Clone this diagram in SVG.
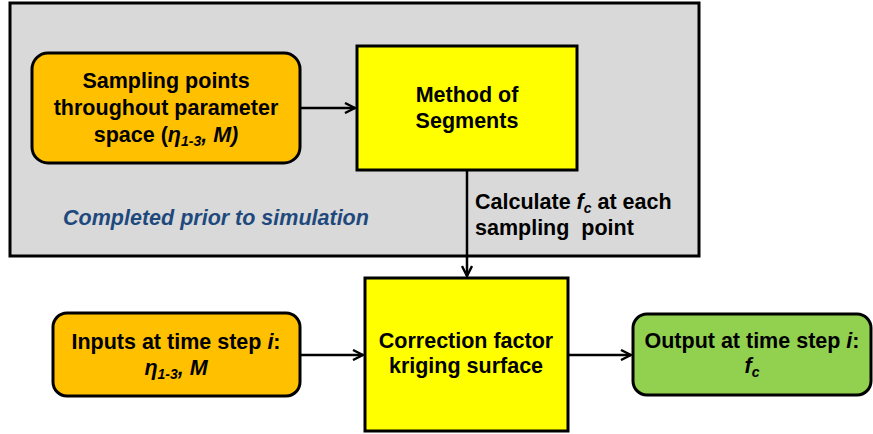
<svg xmlns="http://www.w3.org/2000/svg" width="873" height="434" viewBox="0 0 873 434">
<defs>
<marker id="arr" viewBox="0 0 12 12" refX="11" refY="6" markerWidth="12" markerHeight="12" markerUnits="userSpaceOnUse" orient="auto">
<path d="M1,1 L11,6 L1,11" fill="none" stroke="#000" stroke-width="2.4"/>
</marker>
<style>
.t{font-family:"Liberation Sans",Arial,sans-serif;font-weight:bold;font-size:21.5px;fill:#000;text-anchor:middle}
.box{stroke:#000;stroke-width:3}
.ln{stroke:#000;stroke-width:2.5;fill:none}
</style>
</defs>
<rect width="873" height="434" fill="#fff"/>
<g id="prior">
<rect x="10" y="3" width="689" height="253" fill="#d9d9d9" class="box"/>
<text x="216" y="225" style="font-family:'Liberation Sans',Arial,sans-serif;font-weight:bold;font-style:italic;font-size:21.5px;fill:#1f497d;text-anchor:middle">Completed prior to simulation</text>
</g>
<g id="sampling">
<rect x="32" y="53" width="268" height="110" rx="16" fill="#ffc000" class="box"/>
<text class="t" x="166" y="88">Sampling points</text>
<text class="t" x="166" y="115">throughout parameter</text>
<text class="t" x="166" y="142">space (<tspan font-style="italic">η<tspan font-size="14" dy="4">1-3</tspan><tspan dy="-4">, M)</tspan></tspan></text>
</g>
<g id="mos">
<rect x="357" y="46" width="220" height="124" fill="#ffff00" class="box"/>
<text class="t" x="467" y="102">Method of</text>
<text class="t" x="467" y="128">Segments</text>
</g>
<g id="kriging">
<rect x="365" y="278" width="203" height="153" fill="#ffff00" class="box"/>
<text class="t" x="466" y="348">Correction factor</text>
<text class="t" x="466" y="373">kriging surface</text>
</g>
<g id="inputs">
<rect x="53" y="313" width="247" height="83" rx="14" fill="#ffc000" class="box"/>
<text class="t" x="176" y="349">Inputs at time step <tspan font-style="italic">i</tspan>:</text>
<text class="t" x="176" y="375"><tspan font-style="italic">η<tspan font-size="14" dy="4">1-3</tspan><tspan dy="-4">, M</tspan></tspan></text>
</g>
<g id="output">
<rect x="633" y="314" width="238" height="81" rx="14" fill="#92d050" class="box"/>
<text class="t" x="752" y="348">Output at time step <tspan font-style="italic">i</tspan>:</text>
<text class="t" x="752" y="373"><tspan font-style="italic">f<tspan font-size="14" dy="4">c</tspan></tspan></text>
</g>
<g id="label">
<text class="t" x="475" y="209" style="text-anchor:start">Calculate <tspan font-style="italic">f<tspan font-size="14" dy="4">c</tspan></tspan><tspan dy="-4"> at each</tspan></text>
<text class="t" x="475" y="235" style="text-anchor:start" xml:space="preserve">sampling  point</text>
</g>
<g id="connectors">
<line class="ln" x1="301" y1="108" x2="355" y2="108" marker-end="url(#arr)"/>
<line class="ln" x1="467" y1="171" x2="467" y2="276" marker-end="url(#arr)"/>
<line class="ln" x1="301" y1="355" x2="363" y2="355" marker-end="url(#arr)"/>
<line class="ln" x1="569" y1="355" x2="631" y2="355" marker-end="url(#arr)"/>
</g>
</svg>
